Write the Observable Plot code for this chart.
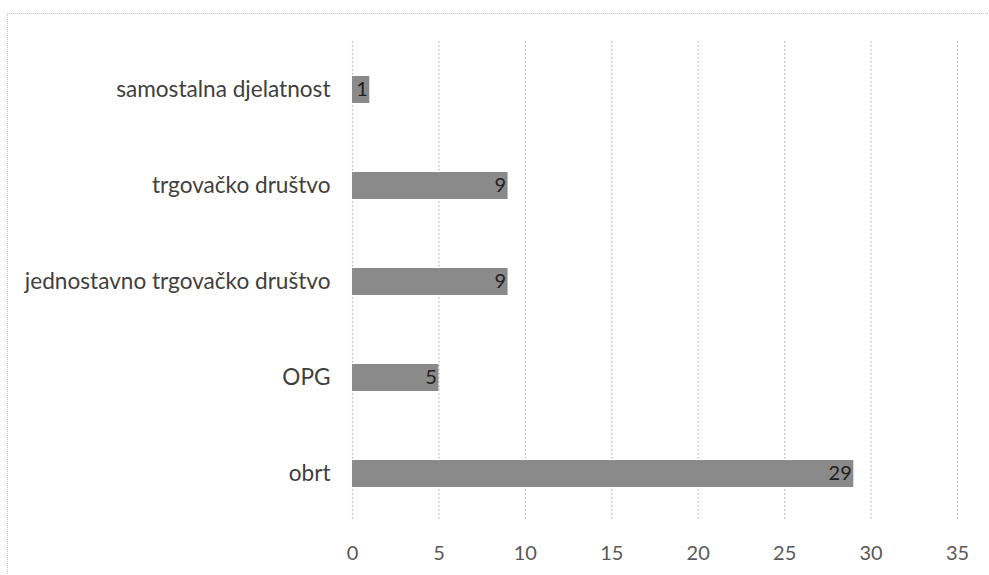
<!DOCTYPE html>
<html>
<head>
<meta charset="utf-8">
<script src="https://cdn.jsdelivr.net/npm/d3@7"></script>
<script src="https://cdn.jsdelivr.net/npm/@observablehq/plot@0.6"></script>
<style>
  html, body { margin: 0; padding: 0; background: #fff; }
  #chart { width: 989px; height: 575px; position: relative; overflow: hidden; }
  #frame { position: absolute; left: 7px; top: 13px; right: -5px; bottom: -5px; border-top: 1px dotted #c4c4c4; border-left: 1px dotted #c4c4c4; }
  #chart svg { display: block; position: absolute; left: 0; top: 0; }
</style>
</head>
<body>
<div id="chart"><div id="frame"></div></div>
<script>
const categories = ["samostalna djelatnost", "trgovačko društvo", "jednostavno trgovačko društvo", "OPG", "obrt"];
const values = [1, 9, 9, 5, 29];
const xTicks = [0, 5, 10, 15, 20, 25, 30, 35];

const data = categories.map((c, i) => ({category: c, value: values[i]}));

const chart = Plot.plot({
  width: 989,
  height: 575,
  marginLeft: 352,
  marginRight: 32,
  marginTop: 41,
  marginBottom: 54,
  style: {fontFamily: "Lato, 'Open Sans', sans-serif", fontSize: "20px", color: "#595959", background: "transparent"},
  x: {domain: [0, 35], ticks: xTicks, label: null, tickSize: 0, tickPadding: 24},
  y: {domain: categories, label: null, tickSize: 0, tickPadding: 22, padding: 0.72, paddingOuter: 0.36},
  marks: [
    Plot.ruleX(xTicks, {stroke: "#b5b5b5", strokeDasharray: "1.5,2.5", strokeWidth: 1.2}),
    Plot.barX(data, {x: "value", y: "category", fill: "#8a8a8a"}),
    Plot.text(data, {x: "value", y: "category", text: d => String(d.value), textAnchor: "end", dx: -2, fill: "#202020", fontSize: 20}),
    Plot.axisY({tickSize: 0, tickPadding: 22, fontSize: 22.6, fill: "#404040", label: null})
  ]
});
document.getElementById("chart").appendChild(chart);
</script>
</body>
</html>
